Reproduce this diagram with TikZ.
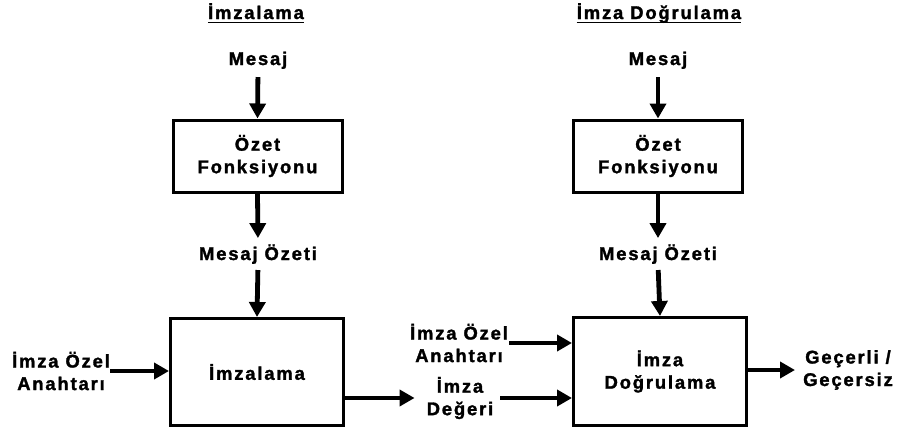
\documentclass[tikz,border=0pt]{standalone}
\usepackage{fontspec}
\newfontfamily\labfont{Liberation Sans}[UprightFont={* Bold}, LetterSpace=10, FakeBold=1.6]
\usetikzlibrary{arrows.meta}
\begin{document}
\begin{tikzpicture}[x=1pt,y=-1pt,
  txt/.style={font=\labfont\fontsize{18.4}{22.5}\selectfont},
  lab/.style={txt, align=center, inner sep=0pt},
  box/.style={txt, draw, line width=3pt, align=center, inner sep=0pt},
  arr/.style={line width=4.8pt, -{Triangle[length=15pt,width=16pt]}},
  uline/.style={line width=1.6pt}
]
\useasboundingbox[fill=white] (0,0) rectangle (900,434);

% titles
\node[lab, anchor=base] (titleL) at (256,19) {İmzalama};
\node[lab, anchor=base] (titleR) at (659,19) {İmza Doğrulama};
\draw[uline] ([yshift=-3.5pt]titleL.base west) -- ([yshift=-3.5pt]titleL.base east);
\draw[uline] ([yshift=-3.5pt]titleR.base west) -- ([yshift=-3.5pt]titleR.base east);

% left column
\node[lab, anchor=base] (mesajL) at (258,65) {Mesaj};
\node[box, minimum width=169pt, minimum height=72pt] (ozetL) at (257.5,156) {Özet\\Fonksiyonu};
\node[lab, anchor=base] (mozL) at (258,260) {Mesaj Özeti};
\node[box, minimum width=173pt, minimum height=107pt] (imzL) at (257,372) {İmzalama};
\node[lab] (keyL) at (61,371) {İmza Özel\\Anahtarı};

% right column
\node[lab, anchor=base] (mesajR) at (658,65) {Mesaj};
\node[box, minimum width=169pt, minimum height=72pt] (ozetR) at (658,156) {Özet\\Fonksiyonu};
\node[lab, anchor=base] (mozR) at (658,260) {Mesaj Özeti};
\node[box, minimum width=173pt, minimum height=108pt] (dogR) at (660,371.5) {İmza\\Doğrulama};
\node[lab] (keyR) at (459,343) {İmza Özel\\Anahtarı};
\node[lab] (deger) at (460,398) {İmza\\Değeri};
\node[lab] (gec) at (848,370) {Geçerli /\\Geçersiz};

% connectors left
\draw[arr, shorten <=8pt] (mesajL.south) -- (ozetL.north);
\draw[arr, shorten >=6pt] (ozetL.south) -- (mozL.north);
\draw[arr, shorten <=6pt] (mozL.south) -- (imzL.north);
\draw[arr] (keyL.east) -- (imzL.west |- keyL.east);
\draw[arr, shorten >=12pt] (imzL.east |- deger.west) -- (deger.west);

% connectors right
\draw[arr, shorten <=8pt] (mesajR.south) -- (ozetR.north);
\draw[arr, shorten >=6pt] (ozetR.south) -- (mozR.north);
\draw[arr, shorten <=6pt] (mozR.south) -- (dogR.north);
\draw[arr, shorten <=1pt] (keyR.east) -- (dogR.west |- keyR.east);
\draw[arr, shorten <=7pt] (deger.east) -- (dogR.west |- deger.east);
\draw[arr, shorten >=8pt] (dogR.east |- gec.west) -- (gec.west);
\end{tikzpicture}
\end{document}
